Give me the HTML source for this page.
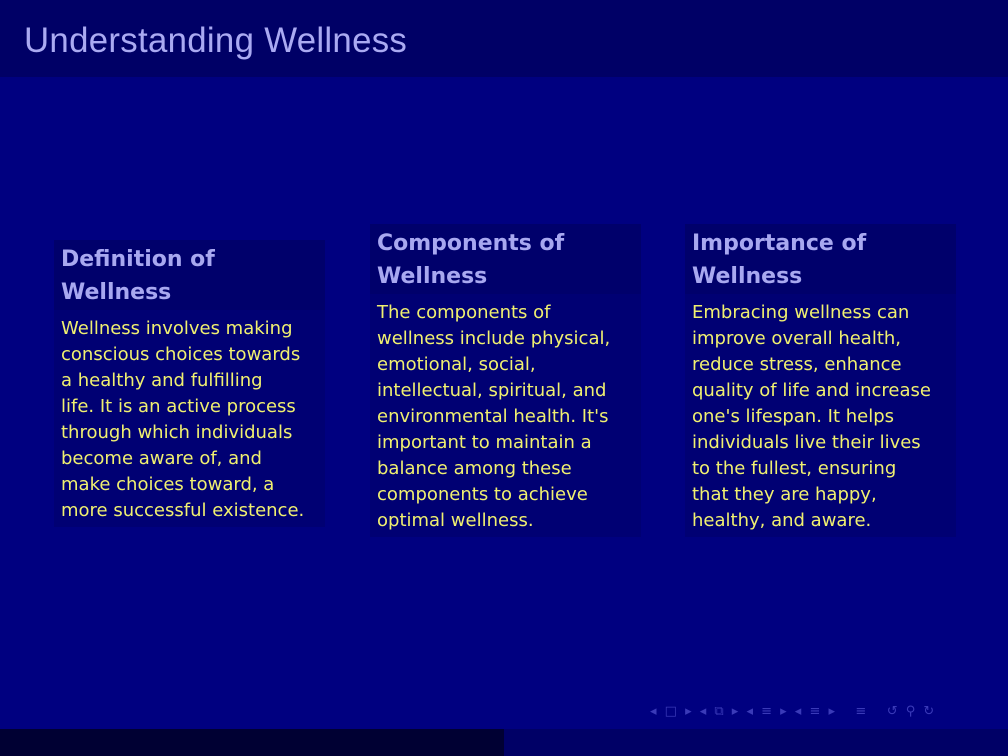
<!DOCTYPE html>
<html><head><meta charset="utf-8"><style>
body{margin:0;width:1008px;height:756px;background:#000080;position:relative;overflow:hidden;font-family:"DejaVu Sans","Liberation Sans",sans-serif}
#hdr{position:absolute;left:0;top:0;width:1008px;height:77px;background:#000066}
#hdr h1{margin:0;position:absolute;left:24px;top:21px;font-weight:normal;font-size:34.8px;color:#aaaaf2;font-family:"Liberation Sans",sans-serif;letter-spacing:0.3px}
.blk{position:absolute;width:271px}
.bt{background:#00006b;color:#a8a8f0;font-weight:bold;font-size:22px;line-height:33px;padding:3px 7px 1px 7px;white-space:nowrap}
.bb{background:#000073;color:#f0f070;font-size:18px;line-height:26px;padding:6px 7px 3px 7px;white-space:nowrap}
#fl{position:absolute;left:0;top:729px;width:504px;height:27px;background:#000033}
#fr{position:absolute;left:504px;top:729px;width:504px;height:27px;background:#000066}
#nav{position:absolute;left:650px;top:704px;color:#3a3ab8;font-size:13px;letter-spacing:2px}
</style></head><body>
<div id="hdr"><h1>Understanding Wellness</h1></div>
<div class="blk" style="left:54px;top:240px">
<div class="bt">Definition of<br>Wellness</div>
<div class="bb">Wellness involves making<br>conscious choices towards<br>a healthy and fulfilling<br>life. It is an active process<br>through which individuals<br>become aware of, and<br>make choices toward, a<br>more successful existence.</div></div>
<div class="blk" style="left:370px;top:224px">
<div class="bt">Components of<br>Wellness</div>
<div class="bb">The components of<br>wellness include physical,<br>emotional, social,<br>intellectual, spiritual, and<br>environmental health. It's<br>important to maintain a<br>balance among these<br>components to achieve<br>optimal wellness.</div></div>
<div class="blk" style="left:685px;top:224px">
<div class="bt">Importance of<br>Wellness</div>
<div class="bb">Embracing wellness can<br>improve overall health,<br>reduce stress, enhance<br>quality of life and increase<br>one's lifespan. It helps<br>individuals live their lives<br>to the fullest, ensuring<br>that they are happy,<br>healthy, and aware.</div></div>
<div id="nav">◂ □ ▸ ◂ ⧉ ▸ ◂ ≡ ▸ ◂ ≡ ▸ &nbsp; ≡ &nbsp; ↺ ⚲ ↻</div>
<div id="fl"></div>
<div id="fr"></div>
</body></html>
